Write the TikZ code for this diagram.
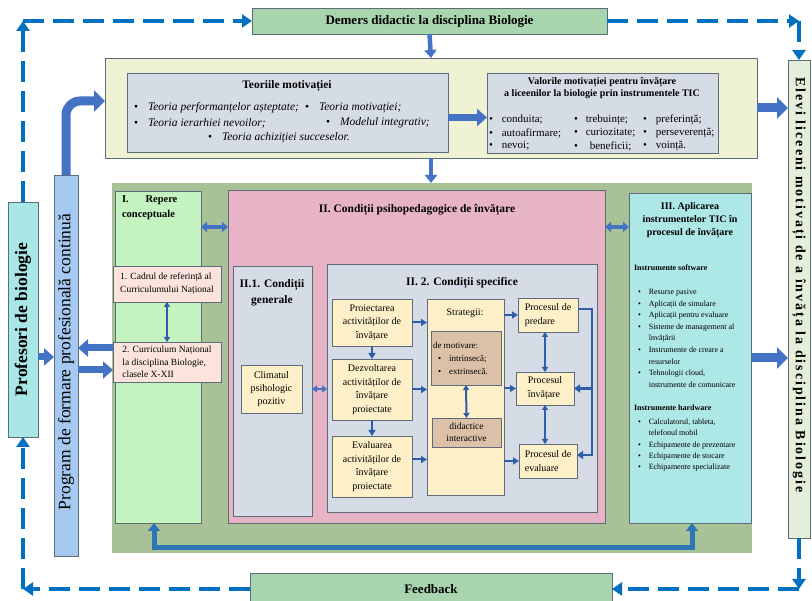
\documentclass[tikz,border=0pt]{standalone}
\usepackage{fontspec}
\setmainfont{Liberation Serif}
\usetikzlibrary{arrows.meta}
\definecolor{demc}{HTML}{A8D4AE}
\definecolor{yelc}{HTML}{EFF3D3}
\definecolor{grayc}{HTML}{D6DCE6}
\definecolor{elevc}{HTML}{E3EFD9}
\definecolor{profc}{HTML}{A9E6E6}
\definecolor{progc}{HTML}{A6C9F1}
\definecolor{sagec}{HTML}{A9C197}
\definecolor{repc}{HTML}{C5F3BF}
\definecolor{lpink}{HTML}{FCE4DC}
\definecolor{pinkc}{HTML}{E6B4C5}
\definecolor{cream}{HTML}{FDF0C9}
\definecolor{brownc}{HTML}{DCC1A8}
\definecolor{ticc}{HTML}{ADE7E6}
\definecolor{bordc}{HTML}{5E6B7C}
\definecolor{arrblue}{HTML}{4472C4}
\definecolor{darkarr}{HTML}{2F5DA8}
\definecolor{ublue}{HTML}{2E75B6}
\definecolor{dashblue}{HTML}{0070C0}
\newcommand\fsz[2]{\fontsize{#1}{#2}\selectfont}
\newcommand\mkbox[7]{\node[box,#6,anchor=north west,minimum width={(#4-#2)*1pt},minimum height={(#5-#3)*1pt}] (#1) at (#2,#3) {#7};}
\begin{document}
\begin{tikzpicture}[x=1pt,y=-1pt,
  box/.style={draw=bordc, line width=0.8pt, inner sep=0pt, outer sep=0pt},
  txt/.style={inner sep=0pt, outer sep=0pt},
  dsh/.style={draw=dashblue, line width=4pt, dash pattern=on 21pt off 9pt, -{Triangle[width=13pt,length=10pt]}},
  bigarr/.style={draw=arrblue, line width=9pt, -{Triangle[width=21pt,length=11pt]}},
  medarr/.style={draw=arrblue, line width=7pt, -{Triangle[width=17pt,length=10pt]}},
  vsm/.style={draw=arrblue, line width=4.5pt, -{Triangle[width=12pt,length=8pt]}},
  dblthick/.style={draw=arrblue, line width=4pt, {Triangle[width=10pt,length=6pt]}-{Triangle[width=10pt,length=6pt]}},
  dblsmall/.style={draw=arrblue, line width=2.5pt, {Triangle[width=7pt,length=5pt]}-{Triangle[width=7pt,length=5pt]}},
  thinarr/.style={draw=darkarr, line width=2pt, -{Triangle[width=7pt,length=6pt]}},
  thindbl/.style={draw=darkarr, line width=1.6pt, {Triangle[width=6pt,length=5pt]}-{Triangle[width=6pt,length=5pt]}},
  thkline/.style={draw=darkarr, line width=2.6pt, -{Triangle[width=8pt,length=6pt]}},
]
\useasboundingbox (0,0) rectangle (812,601);
\fill[white] (0,0) rectangle (812,601);

% ---------- boxes ----------
\mkbox{dem}{252}{8}{607}{34}{fill=demc,font={\fsz{13}{14}\bfseries}}{Demers didactic la disciplina Biologie}
\mkbox{fb}{250}{573}{612}{605}{fill=demc,font={\fsz{13}{14}\bfseries}}{Feedback}
\mkbox{yb}{105}{58}{757}{158}{fill=yelc}{}
\mkbox{teo}{127}{73}{448}{152}{fill=grayc}{}
\mkbox{val}{487}{73}{718}{153}{fill=grayc}{}
\mkbox{elev}{788}{60}{810}{538}{fill=elevc}{}
\mkbox{prof}{8}{202}{38}{437}{fill=profc}{}
\mkbox{prog}{54}{175}{78}{556}{fill=progc}{}
\mkbox{gr}{112}{183}{752}{553}{fill=sagec,draw=none}{}
\mkbox{rep}{115}{191}{201}{523}{fill=repc}{}
\mkbox{cad}{113}{266}{221}{302}{fill=lpink,align=left,font={\fsz{9.5}{13}}}{1. Cadrul de referință al\\Curriculumului Național}
\mkbox{cur}{113}{342}{221}{382}{fill=lpink,align=left,font={\fsz{9.5}{12.5}}}{2. Curriculum Național\\la disciplina Biologie,\\clasele X-XII}
\mkbox{pink}{228}{190}{605}{523}{fill=pinkc}{}
\mkbox{ga}{233}{266}{312}{516}{fill=grayc}{}
\mkbox{clim}{241}{365}{302}{413}{fill=cream,align=center,font={\fsz{10}{13}}}{Climatul\\psihologic\\pozitiv}
\mkbox{gb}{327}{264}{597}{512}{fill=grayc}{}
\mkbox{pro}{332}{299}{412}{346}{fill=cream,align=center,font={\fsz{10}{13.5}}}{Proiectarea\\activităților de\\învățare}
\mkbox{dez}{332}{359}{412}{420}{fill=cream,align=center,font={\fsz{10}{13.5}}}{Dezvoltarea\\activităților de\\învățare\\proiectate}
\mkbox{eva}{332}{436}{412}{497}{fill=cream,align=center,font={\fsz{10}{13.5}}}{Evaluarea\\activităților de\\învățare\\proiectate}
\mkbox{str}{427}{299}{504}{495}{fill=cream}{}
\mkbox{mot}{431}{331}{501}{385}{fill=brownc}{}
\mkbox{did}{432}{418}{501}{447}{fill=brownc,align=center,font={\fsz{9.5}{12.5}}}{didactice\\interactive}
\mkbox{pp}{518}{298}{578}{332}{fill=cream,align=left,font={\fsz{10}{14}}}{Procesul de\\predare}
\mkbox{pi}{516}{372}{574}{405}{fill=cream,align=left,font={\fsz{10}{14}}}{Procesul\\învățare}
\mkbox{pe}{519}{444}{577}{478}{fill=cream,align=left,font={\fsz{10}{14}}}{Procesul de\\evaluare}
\mkbox{tic}{629}{193}{751}{523}{fill=ticc}{}

% ---------- dashed loop ----------
\coordinate (tl) at (prof.north |- dem.west);
\coordinate (tr) at (elev.north |- dem.east);
\coordinate (br) at (elev.south |- fb.east);
\coordinate (bl) at (prof.south |- fb.west);
\draw[dsh] (prof.north) -- (tl);
\draw[dsh] (tl) -- (dem.west);
\draw[dsh] (dem.east) -- (tr);
\draw[dsh] (tr) -- (elev.north);
\draw[dsh] (elev.south) -- (br);
\draw[dsh] (br) -- (fb.east);
\draw[dsh] (fb.west) -- (bl);
\draw[dsh] (bl) -- (prof.south);

% ---------- block arrows ----------
\draw[vsm] (dem.south) -- (yb.north);
\draw[vsm] (yb.south) -- (yb.south |- gr.north);
\draw[medarr] ([yshift=-5pt]teo.east) -- ([yshift=-5pt]teo.east -| val.west);
\draw[bigarr] (yb.east) -- (yb.east -| elev.west);
\draw[bigarr] ([yshift=10pt]gr.east) -- ([yshift=10pt]gr.east -| elev.west);
\coordinate (pa) at (66,101);
\draw[bigarr, rounded corners=14pt] (prog.north) -- (pa) -- (pa -| yb.west);
\coordinate (ypp) at (0,357);
\draw[medarr] (prof.east |- ypp) -- (prog.west |- ypp);
\coordinate (ya) at (0,348);
\coordinate (yc) at (0,370);
\draw[medarr] (cur.west |- ya) -- (prog.east |- ya);
\draw[medarr] (prog.east |- yc) -- (cur.west |- yc);
\draw[thindbl] (cad.south) -- (cur.north);
\coordinate (yr) at (0,227);
\draw[dblthick] (rep.east |- yr) -- (pink.west |- yr);
\draw[dblthick] (pink.east |- yr) -- (tic.west |- yr);
\draw[dblsmall] (ga.east |- clim.east) -- (gb.west |- clim.east);

% ---------- inner arrows ----------
\draw[thinarr] (pro.south) -- (dez.north);
\draw[thinarr] (dez.south) -- (eva.north);
\draw[thinarr] (pro.east) -- (pro.east -| str.west);
\draw[thinarr] (dez.east) -- (dez.east -| str.west);
\draw[thinarr] ([yshift=7pt]eva.east) -- ([yshift=7pt]eva.east -| str.west);
\draw[thindbl, line width=2pt] (mot.south) -- (did.north);
\draw[thinarr] (str.east |- pp.west) -- (pp.west);
\draw[thinarr] (str.east |- pi.west) -- (pi.west);
\draw[thinarr] (str.east |- pe.west) -- (pe.west);
\draw[thindbl, line width=2pt] (pi.north |- pp.south) -- (pi.north);
\draw[thindbl, line width=2pt] (pi.south) -- (pi.south |- pe.north);
\coordinate (brx) at (592,0);
\draw[thkline] ([yshift=6pt]pp.east) -- ([yshift=6pt]pp.east -| brx) -- ([yshift=6pt]pe.east -| brx) -- ([yshift=6pt]pe.east);
\draw[thkline] (pi.east -| brx) -- (pi.east);

% ---------- bottom U connector ----------
\coordinate (ul) at (154,548);
\coordinate (ur) at (692,548);
\draw[draw=ublue, line width=5pt, {Triangle[width=12pt,length=8pt]}-{Triangle[width=12pt,length=8pt]}] (ul |- rep.south) -- (ul) -- (ur) -- (ur |- tic.south);

% ---------- texts ----------
\node[txt, rotate=90, font={\fsz{17.5}{19}\bfseries}] (proft) at (prof.center) {Profesori de biologie};
\node[txt, rotate=90, font={\fsz{17.5}{19}}] (progt) at (66,362) {Program de formare profesională continuă};
\node[txt, rotate=-90, font={\fsz{14}{16}\bfseries\addfontfeature{LetterSpace=14}}] (elevt) at (799,285) {Elevi liceeni motivați de a învăța la disciplina Biologie};

\node[txt, font={\fsz{11.5}{13}\bfseries}] (teot) at (287,86) {Teoriile motivației};
\node[txt, anchor=west, font={\fsz{11.5}{13}}] (t1) at (134,108) {\textbullet\hspace{10pt}\textit{Teoria performanțelor așteptate;}};
\node[txt, anchor=west, font={\fsz{11.5}{13}}] (t2) at (305,108) {\textbullet\hspace{10pt}\textit{Teoria motivației;}};
\node[txt, anchor=west, font={\fsz{11.5}{13}}] (t3) at (134,123) {\textbullet\hspace{10pt}\textit{Teoria ierarhiei nevoilor;}};
\node[txt, anchor=west, font={\fsz{11.5}{13}}] (t4) at (326,123) {\textbullet\hspace{10pt}\textit{Modelul integrativ;}};
\node[txt, anchor=west, font={\fsz{11.5}{13}}] (t5) at (208,138) {\textbullet\hspace{10pt}\textit{Teoria achiziției succeselor.}};

\node[txt, align=center, font={\fsz{10}{12.5}\bfseries}] (valt) at (602,88) {Valorile motivației pentru învățare\\a liceenilor la biologie prin instrumentele TIC};
\node[txt, anchor=west, font={\fsz{11}{12}}] (v1) at (489,120) {\textbullet\hspace{9pt}conduita;};
\node[txt, anchor=west, font={\fsz{11}{12}}] (v2) at (489,133) {\textbullet\hspace{9pt}autoafirmare;};
\node[txt, anchor=west, font={\fsz{11}{12}}] (v3) at (489,146) {\textbullet\hspace{9pt}nevoi;};
\node[txt, anchor=west, font={\fsz{11}{12}}] (v4) at (574,120) {\textbullet\hspace{8pt}trebuințe;};
\node[txt, anchor=west, font={\fsz{11}{12}}] (v5) at (574,133) {\textbullet\hspace{8pt}curiozitate;};
\node[txt, anchor=west, font={\fsz{11}{12}}] (v6) at (574,146) {\textbullet\hspace{12pt}beneficii;};
\node[txt, anchor=west, font={\fsz{11}{12}}] (v7) at (643,120) {\textbullet\hspace{9pt}preferință;};
\node[txt, anchor=west, font={\fsz{11}{12}}] (v8) at (643,133) {\textbullet\hspace{9pt}perseverență;};
\node[txt, anchor=west, font={\fsz{11}{12}}] (v9) at (643,146) {\textbullet\hspace{9pt}voință.};

\node[txt, anchor=north west, align=left, font={\fsz{10.5}{15}\bfseries}] (rept) at (122,196) {I.\hspace{1.6em}Repere\\conceptuale};
\node[txt, font={\fsz{11.5}{13}\bfseries}] (pinkt) at (417,210) {II. Condiții psihopedagogice de învățare};
\node[txt, align=center, font={\fsz{11.5}{16}\bfseries}] (gat) at (272,293) {II.1. Condiții\\generale};
\node[txt, font={\fsz{11.5}{13}\bfseries}] (gbt) at (462,283) {II. 2. Condiții specifice};
\node[txt, font={\fsz{10}{12}}] (strt) at (465,313) {Strategii:};
\node[txt, anchor=west, align=left, font={\fsz{9}{13}}] (mott) at (433,358) {de motivare:\\\hspace*{5pt}\textbullet\hspace{8pt}intrinsecă;\\\hspace*{5pt}\textbullet\hspace{8pt}extrinsecă.};

\node[txt, align=center, font={\fsz{10}{13}\bfseries}] (tict) at (690,220) {III. Aplicarea\\instrumentelor TIC în\\procesul de învățare};
\node[txt, anchor=west, font={\fsz{8}{10}\bfseries}] (swt) at (634,268) {Instrumente software};
\node[txt, anchor=base west, font={\fsz{8}{11.6}}] (swl) at (638,294.5) {\begin{tabular}[t]{@{}l@{\hspace{8pt}}l@{}}
\textbullet & Resurse pasive\\
\textbullet & Aplicații de simulare\\
\textbullet & Aplicații pentru evaluare\\
\textbullet & Sisteme de management al\\
 & învățării\\
\textbullet & Instrumente de creare a\\
 & resurselor\\
\textbullet & Tehnologii cloud,\\
 & instrumente de comunicare
\end{tabular}};
\node[txt, anchor=west, font={\fsz{8}{10}\bfseries}] (hwt) at (634,408) {Instrumente hardware};
\node[txt, anchor=base west, font={\fsz{8}{11.3}}] (hwl) at (638,424.5) {\begin{tabular}[t]{@{}l@{\hspace{8pt}}l@{}}
\textbullet & Calculatorul, tableta,\\
 & telefonul mobil\\
\textbullet & Echipamente de prezentare\\
\textbullet & Echipamente de stocare\\
\textbullet & Echipamente specializate
\end{tabular}};
\end{tikzpicture}
\end{document}
